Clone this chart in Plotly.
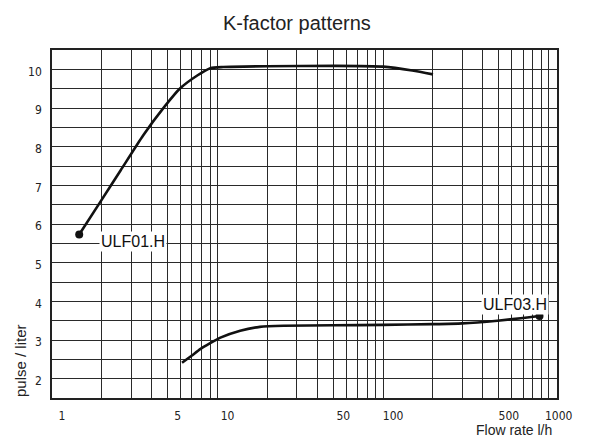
import numpy as np
import plotly.graph_objects as go

# ---- data ----
ulf01_flow = [1.46, 1.95, 2.6, 3.55, 4.69, 5.95, 7.54, 9.04, 10.8, 20, 50, 100, 150, 200]
ulf01_k = [5.73, 6.56, 7.39, 8.29, 8.99, 9.51, 9.84, 10.03, 10.06, 10.08, 10.09, 10.07, 9.97, 9.87]

ulf03_flow = [6.1, 7.0, 7.9, 10.4, 13.7, 18, 25, 50, 100, 200, 300, 490, 700, 880]
ulf03_k = [2.41, 2.6, 2.77, 3.06, 3.24, 3.34, 3.37, 3.38, 3.39, 3.41, 3.43, 3.50, 3.57, 3.62]

series_names = ["ULF01.H", "ULF03.H"]
label_flow = [3.09, 623]
label_k = [5.54, 3.91]

x_labeled = [1, 5, 10, 50, 100, 500, 1000]
x_grid = [d * m for d in (1, 10, 100) for m in range(1, 10)] + [1000]
y_grid = [v / 2 for v in range(4, 21)]
y_labeled = [2, 3, 4, 5, 6, 7, 8, 9, 10]

title_text = "K-factor patterns"
x_title = "Flow rate l/h"
y_title = "pulse / liter"

tick_font = dict(family="Liberation Sans Narrow, Arial Narrow, DejaVu Sans Condensed, Liberation Sans",
                 size=12, color="#222")
text_font = "Liberation Sans, Arial, sans-serif"

fig = go.Figure()
fig.add_trace(go.Scatter(x=ulf01_flow, y=ulf01_k, mode="lines", name=series_names[0],
                         line=dict(color="#111", width=2.6, shape="spline", smoothing=0.6),
                         showlegend=False))
fig.add_trace(go.Scatter(x=[ulf01_flow[0]], y=[ulf01_k[0]], mode="markers",
                         marker=dict(color="#111", size=8), showlegend=False))
fig.add_trace(go.Scatter(x=ulf03_flow, y=ulf03_k, mode="lines", name=series_names[1],
                         line=dict(color="#111", width=2.6, shape="spline", smoothing=0.5),
                         showlegend=False))
fig.add_trace(go.Scatter(x=[ulf03_flow[-1]], y=[ulf03_k[-1]], mode="markers",
                         marker=dict(color="#111", size=8), showlegend=False))

for name, fx, ky in zip(series_names, label_flow, label_k):
    fig.add_annotation(x=np.log10(fx), y=ky, text=name, showarrow=False,
                       font=dict(family=text_font, size=16, color="#111"),
                       bgcolor="white", borderpad=1)

fig.add_annotation(xref="paper", yref="paper", x=0.992, y=0, xanchor="right", yanchor="middle",
                   yshift=-32, text=x_title, showarrow=False, borderpad=0,
                   font=dict(family=text_font, size=14, color="#222"))
fig.add_annotation(xref="paper", yref="paper", x=-0.0634, y=0.109, xanchor="center", yanchor="middle",
                   textangle=-90, text=y_title, showarrow=False,
                   font=dict(family=text_font, size=15, color="#222"))

fig.update_layout(
    width=593, height=438,
    margin=dict(l=52, r=36, t=50, b=40),
    paper_bgcolor="white", plot_bgcolor="white",
    title=dict(text=title_text, x=0.485, xref="paper", y=0.947, yref="container",
               xanchor="center", yanchor="middle",
               font=dict(family=text_font, size=20, color="#222")),
    xaxis=dict(type="log", range=[0, 3.05],
               tickvals=x_grid,
               ticktext=[str(v) if v in x_labeled else "" for v in x_grid],
               showgrid=True, gridcolor="#2a2a2a", gridwidth=1.1,
               showline=True, linecolor="#222", linewidth=1.5, mirror=True,
               ticks="", tickfont=tick_font, ticklabelshift=10, ticklabelstandoff=6,
               zeroline=False),
    yaxis=dict(range=[1.5, 10.5],
               tickvals=y_grid,
               ticktext=[str(int(v)) if v in y_labeled else "" for v in y_grid],
               showgrid=True, gridcolor="#2a2a2a", gridwidth=1.1,
               showline=True, linecolor="#222", linewidth=1.5, mirror=True,
               ticks="", tickfont=tick_font, ticklabelshift=2, ticklabelstandoff=6,
               zeroline=False),
)

fig.write_html("out.html")
